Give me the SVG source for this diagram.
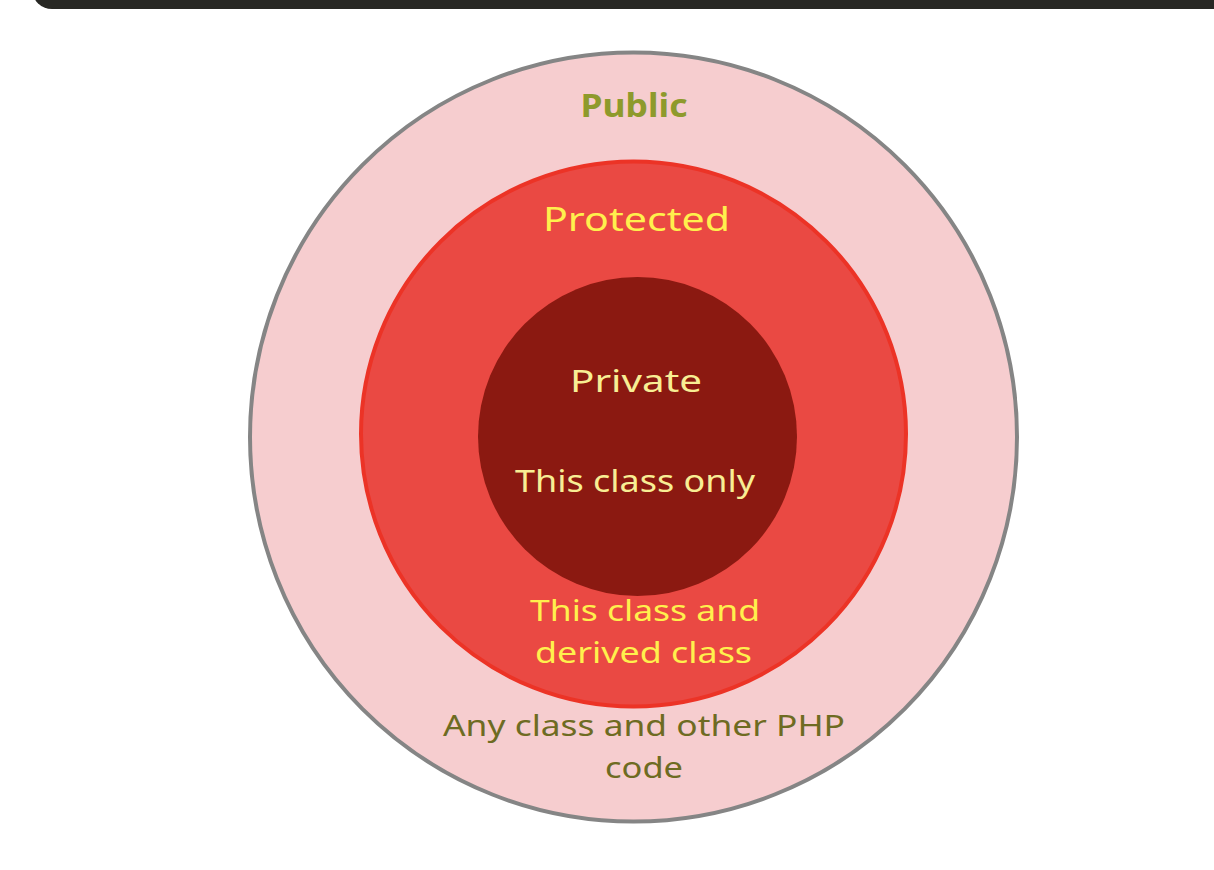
<svg xmlns="http://www.w3.org/2000/svg" width="1214" height="870" viewBox="0 0 1214 870">
<style>
text{font-family:"Noto Sans","DejaVu Sans",sans-serif;text-anchor:middle}
.pub{fill:#8E9A2C;font-size:33px;font-weight:bold}
.prot{fill:#FFF04D;font-size:32px}
.priv{fill:#F8EE94;font-size:31px}
.any{fill:#6E6B22;font-size:29px}
.der{fill:#FFF04D;font-size:29px}
</style>
<rect width="1214" height="870" fill="#FFFFFF"/>
<path d="M32 -20 H1214 V9 H52 A20 20 0 0 1 32 -11 Z" fill="#282824"/>
<g id="public">
<ellipse cx="633.5" cy="437" rx="383.5" ry="384.5" fill="#F6CDCF" stroke="#858585" stroke-width="4"/>
<text class="pub" x="634" y="117" textLength="107" lengthAdjust="spacingAndGlyphs">Public</text>
<text class="any" x="644" y="736" textLength="402" lengthAdjust="spacingAndGlyphs">Any class and other PHP</text>
<text class="any" x="644" y="778" textLength="78" lengthAdjust="spacingAndGlyphs">code</text>
</g>
<g id="protected">
<circle cx="633.5" cy="434" r="272.5" fill="#EA4943" stroke="#EC3326" stroke-width="4"/>
<text class="prot" x="636.5" y="231" textLength="187" lengthAdjust="spacingAndGlyphs">Protected</text>
<text class="der" x="645" y="621" textLength="230" lengthAdjust="spacingAndGlyphs">This class and</text>
<text class="der" x="643.5" y="663" textLength="217" lengthAdjust="spacingAndGlyphs">derived class</text>
</g>
<g id="private">
<circle cx="637.5" cy="436.5" r="159.5" fill="#8B1911"/>
<text class="priv" x="636" y="392" textLength="132" lengthAdjust="spacingAndGlyphs">Private</text>
<text class="priv" x="635" y="492" textLength="240" lengthAdjust="spacingAndGlyphs">This class only</text>
</g>
<g id="connectors"/>
</svg>
